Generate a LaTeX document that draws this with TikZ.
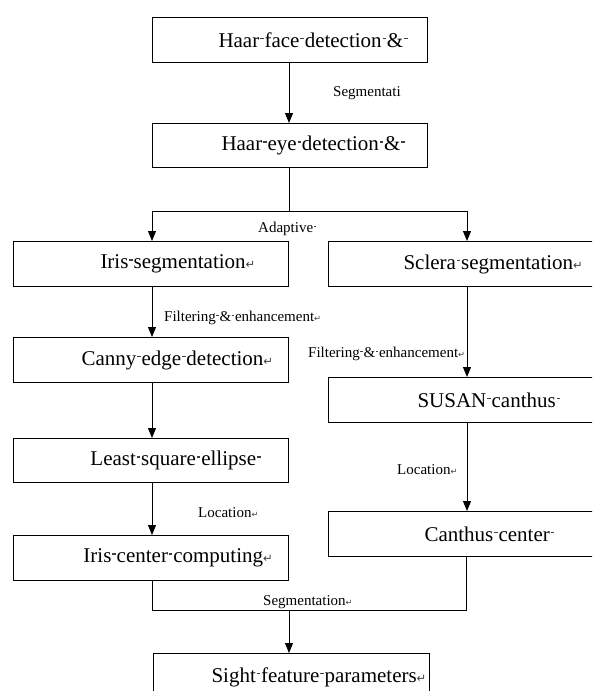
\documentclass[tikz,border=0pt]{standalone}
\usepackage{fontspec}
\usepackage{graphicx}
\setmainfont{Liberation Serif}
\newfontfamily\serx{Liberation Serif}
\newfontfamily\symfont{DejaVu Sans}
\usetikzlibrary{arrows.meta}
\newcommand\boxfont{\serx\fontsize{21}{24}\selectfont}
\newcommand\lblfont{\serx\fontsize{15}{17}\selectfont}
\newcommand\sm{\makebox[0.25em]{\raisebox{0.38em}{\color{darkgray}\rule{0.17em}{0.06em}}}}
\newcommand\rmk{{\color{darkgray}\scalebox{0.55}{\symfont ↵}}}
\tikzset{
  box/.style={draw, line width=1pt, inner xsep=0pt, inner ysep=0pt, align=left,
    anchor=north west, font=\boxfont},
  lbl/.style={font=\lblfont, inner sep=0pt, anchor=west},
  conn/.style={line width=1pt},
  arr/.style={line width=1pt, -{Triangle[width=8pt,length=10pt]}}
}
\begin{document}
\begin{tikzpicture}[x=1pt,y=-1pt]
\useasboundingbox (0,0) rectangle (592,691);
\fill[white] (0,0) rectangle (592,691);
\clip (0,0) rectangle (592,691);
% boxes
\node[box, text width=275pt, minimum height=45pt] (haar1) at (152,17) {\hspace*{66pt}Haar\sm face\sm detection\sm \&\sm};
\node[box, text width=275pt, minimum height=44pt] (haar2) at (152,123) {\hspace*{69pt}Haar\sm eye\sm detection\sm \&\sm};
\node[box, text width=275pt, minimum height=45pt] (irisseg) at (13,241) {\hspace*{87pt}Iris\sm segmentation\rmk};
\node[box, text width=300pt, minimum height=45pt] (sclera) at (328,241) {\hspace*{75pt}Sclera\sm segmentation\rmk};
\node[box, text width=275pt, minimum height=45pt] (canny) at (13,337) {\hspace*{68pt}Canny\sm edge\sm detection\rmk};
\node[box, text width=300pt, minimum height=45pt] (susan) at (328,377) {\hspace*{89pt}SUSAN\sm canthus\sm};
\node[box, text width=275pt, minimum height=44pt] (least) at (13,438) {\hspace*{77pt}Least\sm square\sm ellipse\sm};
\node[box, text width=275pt, minimum height=45pt] (iriscenter) at (13,535) {\hspace*{70pt}Iris\sm center\sm computing\rmk};
\node[box, text width=300pt, minimum height=45pt] (canthus) at (328,511) {\hspace*{96pt}Canthus\sm center\sm};
\node[box, text width=276pt, minimum height=47pt] (sight) at (153,653) {\hspace*{58pt}Sight\sm feature\sm parameters\rmk};
% junction coordinates
\coordinate (bc) at (289,211);
\coordinate (bl) at (152,211);
\coordinate (br) at (467,211);
\coordinate (ml) at (152,610);
\coordinate (mr) at (466,610);
\coordinate (mm) at (289,610);
% connectors
\draw[arr] (haar1.south -| bc) -- (haar2.north -| bc);
\draw[conn] (haar2.south -| bc) -- (bc);
\draw[conn] (bl) -- (br);
\draw[arr] (bl) -- (irisseg.north -| bl);
\draw[arr] (br) -- (sclera.north -| br);
\draw[arr] (irisseg.south -| bl) -- (canny.north -| bl);
\draw[arr] (canny.south -| bl) -- (least.north -| bl);
\draw[arr] (least.south -| bl) -- (iriscenter.north -| bl);
\draw[arr] (sclera.south -| br) -- (susan.north -| br);
\draw[arr] (susan.south -| br) -- (canthus.north -| br);
\draw[conn] (iriscenter.south -| ml) -- (ml) -- (mr) -- (canthus.south -| mr);
\draw[arr] (mm) -- (sight.north -| mm);
% labels
\node[lbl] (l1) at (333,93) {Segmentati};
\node[lbl] (l2) at (258,229) {Adaptive\sm};
\node[lbl] (l3) at (164,318) {Filtering\sm \&\sm enhancement\rmk};
\node[lbl] (l4) at (308,354) {Filtering\sm \&\sm enhancement\rmk};
\node[lbl] (l5) at (397,470) {Location\rmk};
\node[lbl] (l6) at (198,513) {Location\rmk};
\node[lbl] (l7) at (263,602) {Segmentation\rmk};
\end{tikzpicture}
\end{document}
